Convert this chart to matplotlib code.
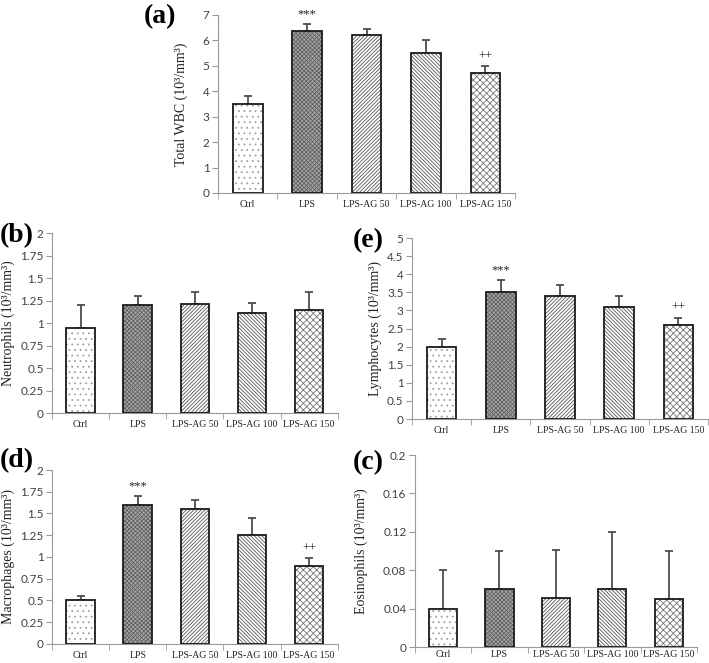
import matplotlib
matplotlib.use('Agg')
import matplotlib.pyplot as plt
import numpy as np

groups = ['Ctrl', 'LPS', 'LPS-AG 50', 'LPS-AG 100', 'LPS-AG 150']

wbc = [3.5, 6.35, 6.2, 5.52, 4.7]
wbc_err = [0.3, 0.3, 0.25, 0.5, 0.3]

neutro = [0.95, 1.2, 1.21, 1.11, 1.15]
neutro_err = [0.25, 0.1, 0.14, 0.11, 0.2]

lympho = [2.0, 3.5, 3.4, 3.1, 2.6]
lympho_err = [0.2, 0.35, 0.3, 0.3, 0.2]

macro = [0.5, 1.6, 1.55, 1.25, 0.9]
macro_err = [0.05, 0.1, 0.1, 0.2, 0.09]

eosino = [0.04, 0.06, 0.051, 0.06, 0.05]
eosino_err = [0.04, 0.04, 0.05, 0.06, 0.05]

# significance marks (group index -> text)
marks = {1: '***', 4: '++'}

hatches = ['...', 'xxxxxxxx', '/' * 9, '\\' * 9, 'xxxxx']
faces = ['white', '#a8a8a8', 'white', 'white', 'white']
hatch_cols = ['#a0a0a0', '#606060', '#555555', '#555555', '#777777']

serif = 'Liberation Serif'
sans = 'Lato'
plt.rcParams['hatch.linewidth'] = 0.6


def draw_panel(rect, vals, errs, ymax, step, ylabel, label_x, tag, tag_xy, show_marks,
               xpad=5):
    ax = fig.add_axes(rect)
    x = np.arange(len(groups))
    for i in range(len(groups)):
        ax.bar(x[i], vals[i], width=0.5, color=faces[i], hatch=hatches[i],
               edgecolor=hatch_cols[i], linewidth=0, zorder=2)
        ax.bar(x[i], vals[i], width=0.5, fill=False, edgecolor='#1a1a1a',
               linewidth=1.3, zorder=3)
    ax.errorbar(x, vals, yerr=[np.zeros(len(errs)), errs], fmt='none',
                ecolor='#4d4d4d', elinewidth=1.3, capsize=3, capthick=1.3, zorder=1)
    if show_marks:
        for i, t in marks.items():
            ax.text(x[i], vals[i] + errs[i] + ymax * 0.02, t, ha='center', va='bottom',
                    fontsize=9, family=serif, color='#222222')
    ax.set_xlim(-0.5, 4.5)
    ax.set_ylim(0, ymax)
    ticks = np.arange(0, ymax + step / 2, step)
    ax.set_yticks(ticks)
    ax.set_yticklabels(['%g' % round(t, 4) for t in ticks], family=sans, fontsize=8.5,
                       color='#404040')
    ax.set_xticks(x)
    ax.set_xticklabels(groups, family=serif, fontsize=7, color='#222222')
    ax.set_xticks(np.arange(-0.5, 5, 1), minor=True)
    ax.tick_params(axis='x', which='major', length=0, pad=xpad)
    ax.tick_params(axis='x', which='minor', length=4, color='#999999')
    ax.tick_params(axis='y', length=4, color='#999999', pad=2)
    for s in ['top', 'right']:
        ax.spines[s].set_visible(False)
    for s in ['left', 'bottom']:
        ax.spines[s].set_color('#999999')
    ax.set_ylabel(ylabel, family=serif, fontsize=10, color='#222222')
    ax.yaxis.set_label_coords(label_x, 0.5)
    fig.text(tag_xy[0], tag_xy[1], tag, family=serif, fontsize=20, fontweight='bold',
             va='center')
    return ax


fig = plt.figure(figsize=(7.09, 6.63), dpi=100)

draw_panel([0.3075, 0.709, 0.419, 0.2685], wbc, wbc_err, 7, 1,
           'Total WBC (10³/mm³)', -0.10, '(a)', (0.203, 0.975), True)
draw_panel([0.0733, 0.377, 0.403, 0.2715], neutro, neutro_err, 2, 0.25,
           'Neutrophils (10³/mm³)', -0.13, '(b)', (0.0, 0.644), False)
draw_panel([0.581, 0.368, 0.4175, 0.273], lympho, lympho_err, 5, 0.5,
           'Lymphocytes (10³/mm³)', -0.10, '(e)', (0.497, 0.637), True)
draw_panel([0.0733, 0.0287, 0.403, 0.2624], macro, macro_err, 2, 0.25,
           'Macrophages (10³/mm³)', -0.13, '(d)', (0.0, 0.305), True)
draw_panel([0.585, 0.0241, 0.398, 0.2896], eosino, eosino_err, 0.2, 0.04,
           'Eosinophils (10³/mm³)', -0.167, '(c)', (0.497, 0.302), False, xpad=2)

fig.savefig('out.png', dpi=100)
